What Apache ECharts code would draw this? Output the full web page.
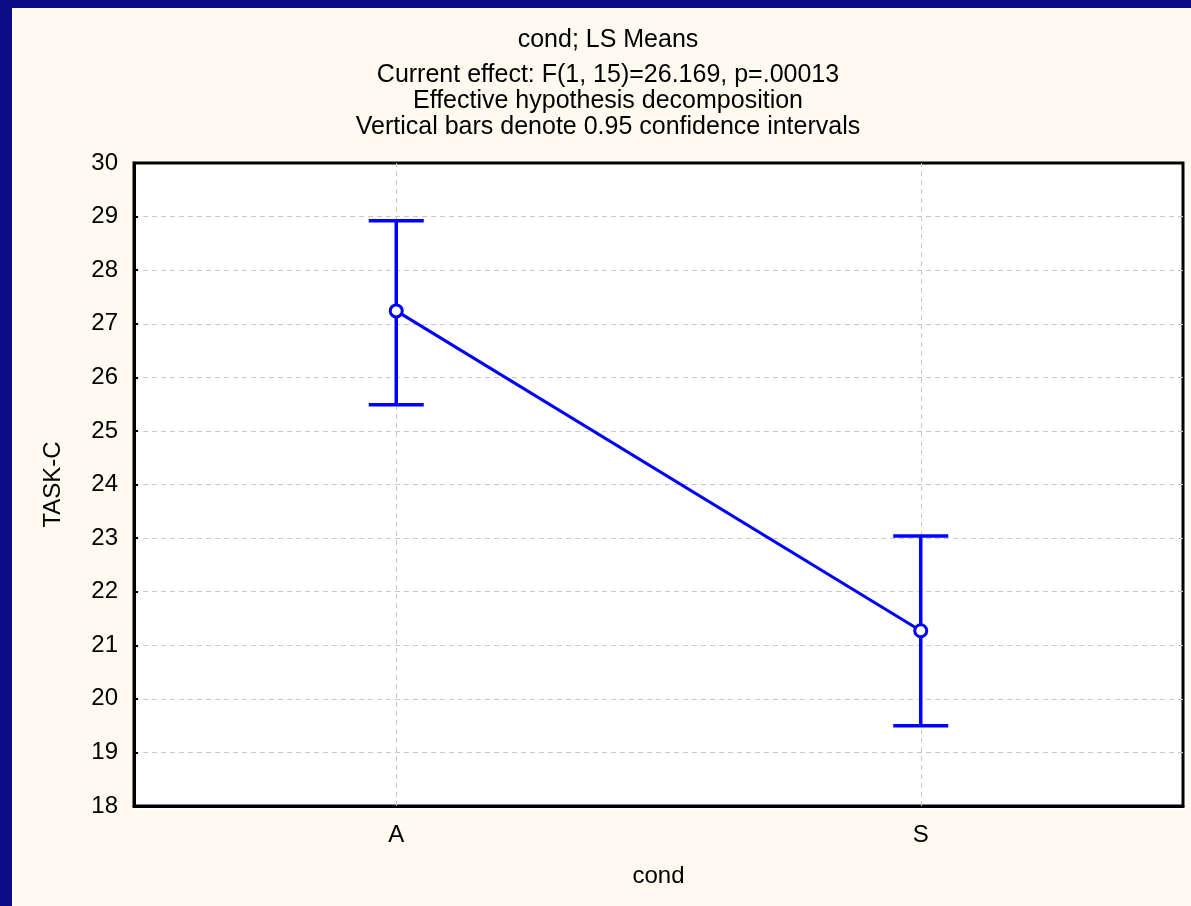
<!DOCTYPE html>
<html>
<head>
<meta charset="utf-8">
<script src="https://cdn.jsdelivr.net/npm/echarts@6/dist/echarts.min.js"></script>
<style>
html,body{margin:0;padding:0;background:#fffaf0;}
#chart{width:1191px;height:906px;}
</style>
</head>
<body>
<div id="chart"></div>
<script>
const categories = ['A', 'S'];
const means = [27.24, 21.27];
const lowerCI = [25.49, 19.50];
const upperCI = [28.92, 23.04];
const yTicks = [18, 30, 1];
const titleText = 'cond; LS Means';
const subtitleLines = [
  'Current effect: F(1, 15)=26.169, p=.00013',
  'Effective hypothesis decomposition',
  'Vertical bars denote 0.95 confidence intervals'
];

const FONT = '"Liberation Sans", Arial, sans-serif';
const BLUE = '#0000ff';
const NAVY = '#0c0c88';
const chart = echarts.init(document.getElementById('chart'));

const errData = categories.map((c, i) => [i, lowerCI[i], upperCI[i]]);

const titleY = [40, 75, 101, 127];
const titleGraphics = [titleText].concat(subtitleLines).map((t, i) => ({
  type: 'text',
  x: 608,
  y: titleY[i],
  style: {
    text: t,
    fill: '#000',
    font: '25px ' + FONT,
    align: 'center',
    verticalAlign: 'middle'
  },
  z: 50
}));

chart.setOption({
  backgroundColor: '#fffaf0',
  animation: false,
  textStyle: { fontFamily: FONT },
  graphic: [
    { type: 'rect', shape: { x: 0, y: 0, width: 12, height: 906 }, style: { fill: NAVY }, z: 100 },
    { type: 'rect', shape: { x: 0, y: 0, width: 1191, height: 8 }, style: { fill: NAVY }, z: 100 },
    { type: 'rect', shape: { x: 137, y: 166, width: 1050, height: 644 }, style: { fill: '#ffffff' }, z: -10 }
  ].concat(titleGraphics),
  grid: {
    left: 134, right: 8, top: 163, bottom: 100,
    show: true, backgroundColor: '#ffffff', borderColor: '#000', borderWidth: 3
  },
  xAxis: {
    type: 'category',
    data: categories,
    name: 'cond',
    nameLocation: 'middle',
    nameGap: 58,
    nameTextStyle: { fontFamily: FONT, fontSize: 24, color: '#000' },
    axisLine: { lineStyle: { color: '#000', width: 3 } },
    axisTick: { show: false },
    axisLabel: { fontFamily: FONT, fontSize: 24, color: '#000', margin: 17 },
    splitLine: { show: false }
  },
  yAxis: {
    type: 'value',
    min: yTicks[0], max: yTicks[1], interval: yTicks[2],
    name: 'TASK-C',
    nameLocation: 'middle',
    nameRotate: 90,
    nameGap: 69,
    nameTextStyle: { fontFamily: FONT, fontSize: 24, color: '#000' },
    axisLine: { show: true, lineStyle: { color: '#000', width: 3 } },
    axisTick: { show: true, inside: true, length: 4, lineStyle: { color: '#000', width: 2 } },
    axisLabel: { fontFamily: FONT, fontSize: 24, color: '#000', margin: 16 },
    splitLine: { show: true, showMinLine: false, showMaxLine: false, lineStyle: { color: '#c8c8c8', type: [5, 4], width: 1 } }
  },
  series: [
    {
      type: 'line',
      z: 1,
      data: [],
      silent: true,
      markLine: {
        z: 1,
        silent: true,
        symbol: 'none',
        label: { show: false },
        animation: false,
        lineStyle: { color: '#c8c8c8', type: [5, 4], width: 1 },
        data: categories.map(c => ({ xAxis: c }))
      }
    },
    {
      type: 'custom',
      z: 3,
      data: errData,
      renderItem: function (params, api) {
        const x = api.value(0);
        const lo = api.coord([x, api.value(1)]);
        const hi = api.coord([x, api.value(2)]);
        const hw = 27.5;
        const st = { stroke: BLUE, lineWidth: 3.5, fill: null };
        return {
          type: 'group',
          children: [
            { type: 'line', shape: { x1: lo[0], y1: lo[1], x2: hi[0], y2: hi[1] }, style: st },
            { type: 'line', shape: { x1: lo[0] - hw, y1: lo[1], x2: lo[0] + hw, y2: lo[1] }, style: st },
            { type: 'line', shape: { x1: hi[0] - hw, y1: hi[1], x2: hi[0] + hw, y2: hi[1] }, style: st }
          ]
        };
      }
    },
    {
      type: 'line',
      z: 4,
      data: means,
      symbol: 'circle',
      symbolSize: 12,
      lineStyle: { color: BLUE, width: 3 },
      itemStyle: { color: '#ffffff', borderColor: BLUE, borderWidth: 3 }
    }
  ]
});
</script>
</body>
</html>
